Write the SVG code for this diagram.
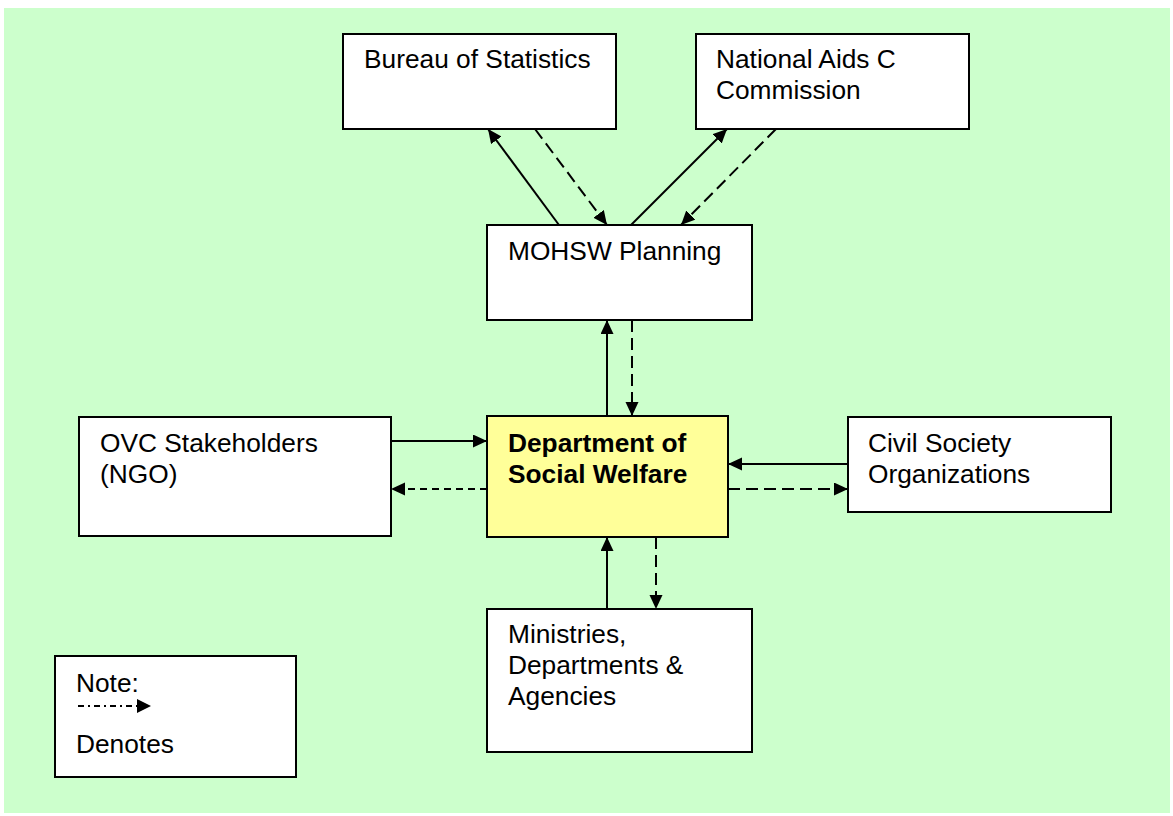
<svg xmlns="http://www.w3.org/2000/svg" width="1173" height="816" viewBox="0 0 1173 816">
<style>
.box{fill:#ffffff;stroke:#000;stroke-width:2}
.main{fill:#ffff99;stroke:#000;stroke-width:2}
.t{font-family:"Liberation Sans",Arial,sans-serif;font-size:26.3px;fill:#000}
.b{font-weight:bold}
.sol{stroke:#000;stroke-width:2;fill:none;marker-end:url(#ah)}
.dsh{stroke:#000;stroke-width:2;fill:none;stroke-dasharray:12,6;marker-end:url(#ah)}
.dsh2{stroke:#000;stroke-width:2;fill:none;stroke-dasharray:7,5;marker-end:url(#ah)}
</style>
<defs>
<marker id="ah" markerUnits="userSpaceOnUse" markerWidth="15" markerHeight="14" refX="14" refY="6.5" orient="auto">
<path d="M0,0 L14,6.5 L0,13 z" fill="#000"/>
</marker>
</defs>
<rect x="4" y="8" width="1166" height="805" fill="#ccffcc"/>

<g id="connectors">
<line class="sol" x1="559" y1="225" x2="488" y2="129"/>
<line class="dsh" x1="535" y1="129" x2="607" y2="225"/>
<line class="sol" x1="631" y1="225" x2="727" y2="129"/>
<line class="dsh" x1="776" y1="129" x2="681" y2="225"/>
<line class="sol" x1="607" y1="416" x2="607" y2="320"/>
<line class="dsh" x1="632" y1="320" x2="632" y2="416"/>
<line class="sol" x1="391" y1="441" x2="487" y2="441"/>
<line class="dsh2" x1="487" y1="489" x2="391" y2="489"/>
<line class="sol" x1="848" y1="464" x2="728" y2="464"/>
<line class="dsh" x1="728" y1="489" x2="848" y2="489"/>
<line class="sol" x1="607" y1="609" x2="607" y2="537"/>
<line class="dsh" x1="656" y1="537" x2="656" y2="609"/>
</g>

<g id="bureau">
<rect class="box" x="343" y="34" width="273" height="95"/>
<text class="t" x="364" y="68">Bureau of Statistics</text>
</g>
<g id="nac">
<rect class="box" x="696" y="34" width="273" height="95"/>
<text class="t" x="716" y="68">National Aids C</text>
<text class="t" x="716" y="99">Commission</text>
</g>
<g id="mohsw">
<rect class="box" x="487" y="225" width="265" height="95"/>
<text class="t" x="508" y="260">MOHSW Planning</text>
</g>
<g id="dsw">
<rect class="main" x="487" y="416" width="241" height="121"/>
<text class="t b" x="508" y="452">Department of</text>
<text class="t b" x="508" y="483">Social Welfare</text>
</g>
<g id="ovc">
<rect class="box" x="79" y="417" width="312" height="119"/>
<text class="t" x="100" y="452">OVC Stakeholders</text>
<text class="t" x="100" y="483">(NGO)</text>
</g>
<g id="cso">
<rect class="box" x="848" y="417" width="263" height="95"/>
<text class="t" x="868" y="452">Civil Society</text>
<text class="t" x="868" y="483">Organizations</text>
</g>
<g id="mda">
<rect class="box" x="487" y="609" width="265" height="143"/>
<text class="t" x="508" y="643">Ministries,</text>
<text class="t" x="508" y="674">Departments &amp;</text>
<text class="t" x="508" y="705">Agencies</text>
</g>
<g id="note">
<rect class="box" x="55" y="656" width="241" height="121"/>
<text class="t" x="76" y="692">Note:</text>
<line x1="78" y1="706" x2="137" y2="706" stroke="#000" stroke-width="2" stroke-dasharray="6,4,2,4"/>
<path d="M137,699 L151,706 L137,713 z" fill="#000"/>
<text class="t" x="76" y="753">Denotes</text>
</g>
</svg>
